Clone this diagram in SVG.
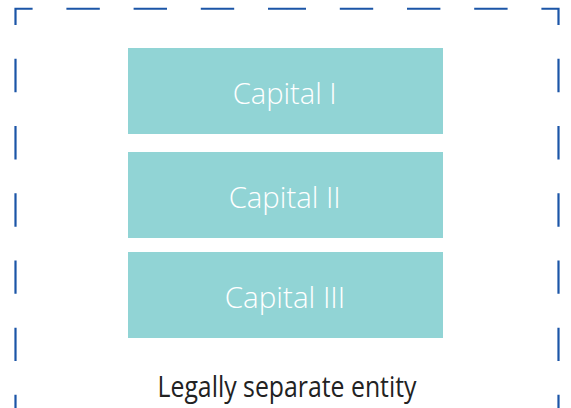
<svg xmlns="http://www.w3.org/2000/svg" width="571" height="408" viewBox="0 0 571 408">
  <style>
    .frame { fill: none; stroke: #1b55a7; stroke-width: 2.2; stroke-dasharray: 33.4 33.8; stroke-dashoffset: -1.75; }
    .box { fill: #91d4d5; }
    .cap { font-family: "Open Sans", "Noto Sans", sans-serif; font-size: 29px; font-weight: 300; fill: #ffffff; text-anchor: middle; }
    .label { font-family: "Open Sans", "Noto Sans", sans-serif; font-size: 29px; fill: #222222; text-anchor: middle; }
  </style>
  <rect width="571" height="408" fill="#ffffff"/>

  <!-- dashed entity boundary, drawn as two mirrored halves -->
  <g id="boundary">
    <path class="frame" d="M15.5,430 V8.75 H287.1"/>
    <path class="frame" d="M558.5,430 V8.75 H286.9"/>
  </g>

  <g id="capital-1">
    <rect class="box" x="128" y="48" width="315" height="86"/>
    <text class="cap" x="284.7" y="104.3" textLength="104" lengthAdjust="spacingAndGlyphs">Capital I</text>
  </g>
  <g id="capital-2">
    <rect class="box" x="128" y="152" width="315" height="86"/>
    <text class="cap" x="284.7" y="207.7" textLength="112" lengthAdjust="spacingAndGlyphs">Capital II</text>
  </g>
  <g id="capital-3">
    <rect class="box" x="128" y="252" width="315" height="86"/>
    <text class="cap" x="285" y="307.7" textLength="120.5" lengthAdjust="spacingAndGlyphs">Capital III</text>
  </g>

  <g id="entity-label">
    <text class="label" x="287" y="396.8" textLength="259" lengthAdjust="spacingAndGlyphs">Legally separate entity</text>
  </g>
</svg>
